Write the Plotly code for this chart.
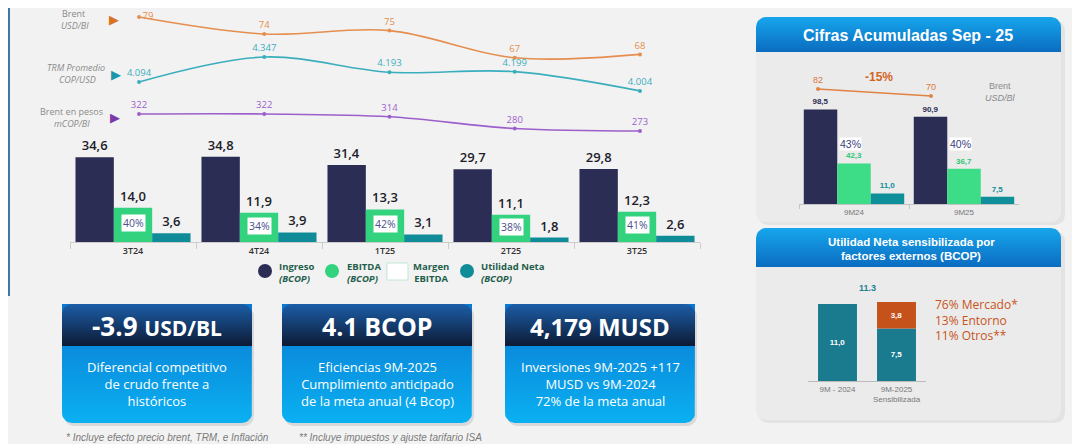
import numpy as np
import plotly.graph_objects as go

# the page adds an 8px body margin, so the figure is 8px smaller and
# every pixel position below is written in page coordinates
OFF = 8
W, H = 1080 - OFF, 444 - OFF

# ---- data ----
quarters = ["3T24", "4T24", "1T25", "2T25", "3T25"]
ingreso = [34.6, 34.8, 31.4, 29.7, 29.8]
ebitda = [14.0, 11.9, 13.3, 11.1, 12.3]
utilidad = [3.6, 3.9, 3.1, 1.8, 2.6]
margen = [40, 34, 42, 38, 41]
brent = [79, 74, 75, 67, 68]
trm = [4094, 4347, 4193, 4199, 4004]
brent_pesos = [322, 322, 314, 280, 273]

acc_periods = ["9M24", "9M25"]
acc_ingreso = [98.5, 90.9]
acc_ebitda = [42.3, 36.7]
acc_utilidad = [11.0, 7.5]
acc_margen = [43, 40]
acc_brent = [82, 70]

sens_periods = ["9M - 2024", "9M-2025<br>Sensibilizada"]
sens_base = [11.0, 7.5]
sens_externos = [3.8]
factores = ["76% Mercado*", "13% Entorno", "11% Otros**"]

kpi_values = ["-3.9", "4.1", "4,179"]
kpi_units = ["USD/BL", "BCOP", "MUSD"]
kpi_texts = [
    "Diferencial competitivo<br>de crudo frente a<br>históricos",
    "Eficiencias 9M-2025<br>Cumplimiento anticipado<br>de la meta anual (4 Bcop)",
    "Inversiones 9M-2025 +117<br>MUSD vs 9M-2024<br>72% de la meta anual",
]
notas = ["* Incluye efecto precio brent, TRM, e Inflación",
         "** Incluye impuestos y ajuste tarifario ISA"]

NAVY = "#2b2d55"
GREEN = "#33d27f"
TEAL = "#0f8c98"
ORANGE = "#e58e4f"
CYAN = "#3aaebd"
PURPLE = "#9c5fcc"
LEG = "#1f5e4b"
GREY = "#8a8a8a"
FONT = "Open Sans"
ARIAL = "Liberation Sans"


def fmt(v):
    return f"{v:.1f}".replace(".", ",")


def miles(v):
    return f"{v:,}".replace(",", ".")


def dx(a, b):
    return [(a - OFF) / W, (b - OFF) / W]


def dy(top, bottom):
    return [1 - (bottom - OFF) / H, 1 - (top - OFF) / H]


def rounded(x0, y0, x1, y1, r, top=True, bottom=True):
    t = np.linspace(0, np.pi / 2, 8)
    xs, ys = [], []
    if top:
        xs += list(x1 - r + r * np.sin(t)); ys += list(y0 + r - r * np.cos(t))
    else:
        xs += [x1]; ys += [y0]
    if bottom:
        xs += list(x1 - r + r * np.cos(t)); ys += list(y1 - r + r * np.sin(t))
        xs += list(x0 + r - r * np.sin(t)); ys += list(y1 - r + r * np.cos(t))
    else:
        xs += [x1, x0]; ys += [y1, y1]
    if top:
        xs += list(x0 + r - r * np.cos(t)); ys += list(y0 + r - r * np.sin(t))
    else:
        xs += [x0]; ys += [y0]
    xs.append(xs[0]); ys.append(ys[0])
    return xs, ys


fig = go.Figure()


def box(x0, y0, x1, y1, r, c_top, c_bot=None, top=True, bottom=True):
    xs, ys = rounded(x0, y0, x1, y1, r, top, bottom)
    kw = dict(fillcolor=c_top)
    if c_bot:
        kw = dict(fillgradient=dict(type="vertical", colorscale=[[0, c_top], [1, c_bot]],
                                    start=y0, stop=y1))
    fig.add_trace(go.Scatter(x=xs, y=ys, mode="lines", line=dict(width=0), fill="toself",
                             hoverinfo="skip", showlegend=False, xaxis="x", yaxis="y", **kw))


# ---- decorative panels (pixel overlay axis) ----
box(758, 20, 1065, 225, 10, "rgba(0,0,0,0.06)")
box(756, 17, 1061, 222, 10, "#ebebeb")
box(756, 17, 1061, 52, 10, "#16a6ec", "#0b6cc0", bottom=False)
box(758, 231, 1065, 423, 10, "rgba(0,0,0,0.06)")
box(756, 228, 1061, 420, 10, "#ebebeb")
box(756, 228, 1061, 267, 10, "#16a6ec", "#0b6cc0", bottom=False)

kpi_x = [(62, 252), (282, 472), (505, 695)]
for x0, x1 in kpi_x:
    box(x0 + 2, 306, x1 + 2, 426, 10, "rgba(0,0,0,0.10)")
    box(x0, 304, x1, 423, 10, "#0a78d0", "#0ab0f2", top=False)
    box(x0, 304, x1, 346, 10, "#1c5ea8", "#0d1a34", bottom=False)

# ---- main quarterly bars ----
for vals, col, name in [(ingreso, NAVY, "Ingreso"), (ebitda, GREEN, "EBITDA"),
                        (utilidad, TEAL, "Utilidad Neta")]:
    fig.add_trace(go.Bar(x=quarters, y=vals, name=name, marker_color=col, marker_line_width=0,
                         text=[fmt(v) for v in vals], textposition="outside",
                         textfont=dict(size=13, color="#1d1d2b", family=FONT, weight=600),
                         cliponaxis=False, constraintext="none", xaxis="x2", yaxis="y2"))

# ---- macro lines ----
first_right = ["middle right"] + ["top center"] * (len(quarters) - 1)
for vals, col, yax, lab, pos in [
        (brent, ORANGE, "y3", [str(v) for v in brent], first_right),
        (trm, CYAN, "y4", [miles(v) for v in trm], "top center"),
        (brent_pesos, PURPLE, "y5", [str(v) for v in brent_pesos], "top center")]:
    fig.add_trace(go.Scatter(x=quarters, y=vals, mode="lines+markers+text", text=lab,
                             textposition=pos,
                             textfont=dict(size=9.5, color=col, family=FONT),
                             line=dict(color=col, width=1.6, shape="spline", smoothing=1),
                             marker=dict(size=4, color=col), cliponaxis=False,
                             showlegend=False, xaxis="x3", yaxis=yax))

# ---- accumulated ----
for vals, col, tcol in [(acc_ingreso, NAVY, NAVY), (acc_ebitda, "#3ddc86", "#2bc872"),
                        (acc_utilidad, "#0e8f9a", "#0e8f9a")]:
    fig.add_trace(go.Bar(x=acc_periods, y=vals, marker_color=col, marker_line_width=0,
                         text=[fmt(v) for v in vals], textposition="outside",
                         textfont=dict(size=8, color=tcol, family=ARIAL, weight="bold"),
                         cliponaxis=False, constraintext="none", showlegend=False,
                         xaxis="x4", yaxis="y6"))
fig.add_trace(go.Scatter(x=acc_periods, y=acc_brent, mode="lines+markers+text",
                         text=[str(v) for v in acc_brent], textposition="top center",
                         textfont=dict(size=9, color="#d9793a", family=ARIAL),
                         line=dict(color="#e08446", width=1.5), marker=dict(size=4, color="#e08446"),
                         cliponaxis=False, showlegend=False, xaxis="x5", yaxis="y7"))

# ---- sensitised net income ----
for x, y, base, col in [(sens_periods, sens_base, None, "#1a7b8e"),
                        (sens_periods[1:], sens_externos, sens_base[1:], "#c5521b")]:
    fig.add_trace(go.Bar(x=x, y=y, base=base, marker_color=col, marker_line_width=0,
                         offsetgroup="s", width=0.66, text=[fmt(v) for v in y],
                         textposition="inside", insidetextanchor="middle",
                         textfont=dict(size=8, color="white", family=ARIAL, weight="bold"),
                         showlegend=False, xaxis="x6", yaxis="y8"))

# ---- shapes ----
shapes = [
    dict(type="line", x0=9, x1=9, y0=8, y1=296, line=dict(color="#3a7aa3", width=2)),
    dict(type="line", x0=1076, x1=1076, y0=8, y1=444, line=dict(color="#5f84a6", width=2)),
    dict(type="circle", x0=258, x1=272, y0=264, y1=278, fillcolor=NAVY, line_width=0),
    dict(type="circle", x0=325, x1=339, y0=264, y1=278, fillcolor=GREEN, line_width=0),
    dict(type="rect", x0=387, x1=408, y0=263, y1=280, fillcolor="white",
         line=dict(color="#bfe9d2", width=1)),
    dict(type="circle", x0=460, x1=474, y0=264, y1=278, fillcolor=TEAL, line_width=0),
    dict(type="circle", x0=994, x1=1006, y0=65, y1=77, fillcolor="#d9731f", line_width=0),
    dict(type="path", path="M 929 295 L 923 295 L 923 342 L 929 342 M 923 318 L 919 318",
         line=dict(color="#e0936a", width=1)),
]
for s in shapes:
    s.update(xref="x", yref="y", layer="below")

# ---- annotations ----
ann = []


def txt(x, y, text, size, color, xanchor="center", family=FONT, **kw):
    ann.append(dict(x=x, y=y, xref="x", yref="y", text=text, showarrow=False,
                    xanchor=xanchor, yanchor="middle",
                    align="center" if xanchor == "center" else xanchor,
                    font=dict(size=size, color=color, family=family, **kw)))


# left labels of macro lines
txt(73, 13, "Brent", 9, GREY)
txt(75, 25, "<i>USD/Bl</i>", 9, GREY)
txt(76, 67, "<i>TRM Promedio</i>", 9, GREY)
txt(77, 79, "<i>COP/USD</i>", 9, GREY)
txt(71, 111, "Brent en pesos", 9, GREY)
txt(72, 123, "<i>mCOP/Bl</i>", 9, GREY)
txt(114, 19, "▶", 13, "#d9731f")
txt(116, 74, "▶", 13, "#1c97aa")
txt(115, 117, "▶", 13, "#7b3aa8")

# legend
txt(277, 272, "<b>Ingreso</b><br><b><i>(BCOP)</i></b>", 9.5, LEG, xanchor="left")
txt(345, 272, "<b>EBITDA</b><br><b><i>(BCOP)</i></b>", 9.5, LEG, xanchor="left")
txt(431, 272, "<b>Margen<br>EBITDA</b>", 9.5, LEG)
txt(479, 272, "<b>Utilidad Neta</b><br><b><i>(BCOP)</i></b>", 9.5, LEG, xanchor="left")

# margin pills
for q, e, m in zip(quarters, ebitda, margen):
    ann.append(dict(x=q, y=e * 0.55, xref="x2", yref="y2", text=f"{m}%", showarrow=False,
                    bgcolor="white", borderpad=1,
                    font=dict(size=10.5, color="#4a4f8e", family=FONT)))
for p, m in zip(acc_periods, acc_margen):
    ann.append(dict(x=p, y=62, xref="x4", yref="y6", text=f"{m}%", showarrow=False,
                    xshift=-4, bgcolor="white", borderpad=0,
                    font=dict(size=10.5, color="#3c4080", family=ARIAL)))

# KPI boxes
kpi_sizes = [(26, 21), (25, 25), (24, 24)]
for (x0, x1), v, u, t, (vs, us) in zip(kpi_x, kpi_values, kpi_units, kpi_texts, kpi_sizes):
    txt((x0 + x1) / 2, 326, f"<b>{v} <span style='font-size:{us}px'>{u}</span></b>", vs, "white")
    ann.append(dict(x=(x0 + x1) / 2, y=384, xref="x", yref="y", text=t, showarrow=False,
                    align="center", font=dict(size=13, color="white", family=FONT)))

txt(64, 437, f"<i>{notas[0]}</i>", 10, "#7a7a7a", xanchor="left", family=ARIAL)
txt(297, 437, f"<i>{notas[1]}</i>", 10, "#7a7a7a", xanchor="left", family=ARIAL)

# right panel titles
txt(908, 35, "<b>Cifras Acumuladas Sep - 25</b>", 16, "white", family=ARIAL)
txt(911, 242, "<b>Utilidad Neta sensibilizada por</b>", 11.5, "white", family=ARIAL)
txt(911, 256, "<b>factores externos (BCOP)</b>", 11.5, "white", family=ARIAL)

cambio = round((acc_brent[1] / acc_brent[0] - 1) * 100)
txt(879, 77, f"<b>{cambio}%</b>", 12, "#d2651f", family=ARIAL)
txt(1000, 86, "Brent", 9, GREY, family=ARIAL)
txt(1000, 98, "<i>USD/Bl</i>", 9, GREY, family=ARIAL)

ann.append(dict(x=sens_periods[1], y=sens_base[1] + sens_externos[0], xref="x6", yref="y8",
                text=f"<b>{sens_base[1] + sens_externos[0]:.1f}</b>", showarrow=False,
                yanchor="bottom", xshift=-29, yshift=7,
                font=dict(size=9, color="#1f7f92", family=ARIAL)))
txt(933, 320, "<br>".join(factores), 12, "#c8541a", xanchor="left")

cat = dict(type="category", showgrid=False, zeroline=False, fixedrange=True)
hidden = dict(visible=False, showgrid=False, zeroline=False, fixedrange=True)

fig.update_layout(
    width=W, height=H, margin=dict(l=0, r=0, t=0, b=0, pad=0),
    paper_bgcolor="#f2f2f2", plot_bgcolor="rgba(0,0,0,0)",
    barmode="group", bargap=0.087, bargroupgap=0, showlegend=False,
    font=dict(family=FONT),
    shapes=shapes, annotations=ann,
    xaxis=dict(domain=[0, 1], range=[OFF, 1080], **hidden),
    yaxis=dict(domain=[0, 1], range=[444, OFF], **hidden),
    xaxis2=dict(domain=dx(70, 700), anchor="y2", range=[-0.5, 4.5], showline=True,
                linecolor="#cccccc", ticks="outside", tickson="boundaries", ticklen=6,
                tickcolor="#cccccc", tickfont=dict(size=9, color="#333", weight=600), **cat),
    yaxis2=dict(domain=dy(144, 242), range=[0, 40], anchor="x2", **hidden),
    xaxis3=dict(domain=dx(76.4, 702.6), anchor="y3", range=[-0.5, 4.5], type="category", **hidden),
    yaxis3=dict(domain=dy(8, 140), range=[42.8, 81.65], anchor="x3", **hidden),
    yaxis4=dict(domain=dy(8, 140), range=[3507, 4843], anchor="x3", overlaying="y3", **hidden),
    yaxis5=dict(domain=dy(8, 140), range=[247, 627.5], anchor="x3", overlaying="y3", **hidden),
    xaxis4=dict(domain=dx(799, 1019), anchor="y6", range=[-0.5, 1.5], showline=True,
                linecolor="#c4c4c4", ticks="outside", tickson="boundaries", ticklen=4,
                tickcolor="#c4c4c4", tickfont=dict(size=8, color="#777", family=ARIAL), **cat),
    yaxis6=dict(domain=dy(98.4, 204), range=[0, 110], anchor="x4", **hidden),
    xaxis5=dict(domain=dx(761.5, 987.5), anchor="y7", range=[-0.5, 1.5], type="category", **hidden),
    yaxis7=dict(domain=dy(60, 110), range=[46, 131.7], anchor="x5", **hidden),
    xaxis6=dict(domain=dx(808, 926), anchor="y8", range=[-0.5, 1.5], showline=True,
                linecolor="#bbbbbb", ticks="", tickfont=dict(size=8, color="#777", family=ARIAL), **cat),
    yaxis8=dict(domain=dy(283, 381), range=[0, 14], anchor="x6", **hidden),
)

fig.write_html("out.html")
